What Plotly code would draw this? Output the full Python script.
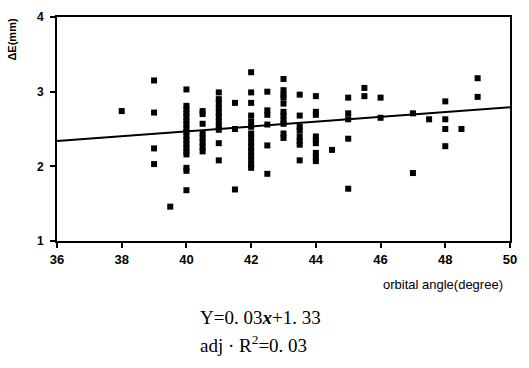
import plotly.graph_objects as go

# Data (orbital angle in degrees vs ΔE in mm)
x_38 = [38]
y_38 = [2.74]
x_39 = [39, 39, 39, 39, 39.5]
y_39 = [3.15, 2.72, 2.24, 2.03, 1.46]
y_40 = [3.03, 2.81, 2.76, 2.71, 2.66, 2.61, 2.56, 2.51, 2.46, 2.40, 2.35, 2.30, 2.25, 2.20, 2.16, 1.98, 1.94, 1.68]
y_40_5 = [2.74, 2.70, 2.57, 2.44, 2.38, 2.32, 2.26, 2.20]
y_41 = [2.99, 2.90, 2.85, 2.78, 2.72, 2.66, 2.60, 2.54, 2.49, 2.31, 2.08]
y_41_5 = [2.85, 2.50, 1.69]
y_42 = [3.26, 2.99, 2.85, 2.68, 2.60, 2.53, 2.44, 2.38, 2.32, 2.26, 2.20, 2.14, 2.08, 2.02, 1.98]
y_42_5 = [3.00, 2.75, 2.69, 2.56, 2.28, 1.90]
y_43 = [3.17, 3.02, 2.96, 2.92, 2.84, 2.73, 2.68, 2.62, 2.57, 2.44, 2.38]
y_43_5 = [2.96, 2.68, 2.53, 2.48, 2.40, 2.34, 2.29, 2.08]
y_44 = [2.94, 2.73, 2.69, 2.40, 2.35, 2.31, 2.18, 2.12, 2.07]
y_44_5 = [2.22]
y_45 = [2.92, 2.71, 2.63, 2.37, 1.70]
y_45_5 = [3.05, 2.94]
y_46 = [2.92, 2.65]
y_47 = [2.71, 1.91]
y_47_5 = [2.63]
y_48 = [2.87, 2.63, 2.50, 2.27]
y_48_5 = [2.50]
y_49 = [3.18, 2.93]

columns = [
    (38, y_38), (40, y_40), (40.5, y_40_5), (41, y_41), (41.5, y_41_5),
    (42, y_42), (42.5, y_42_5), (43, y_43), (43.5, y_43_5), (44, y_44),
    (44.5, y_44_5), (45, y_45), (45.5, y_45_5), (46, y_46), (47, y_47),
    (47.5, y_47_5), (48, y_48), (48.5, y_48_5), (49, y_49),
]

xs = list(x_39)
ys = list(y_39)
for cx, cy in columns:
    xs += [cx] * len(cy)
    ys += cy

# Regression line as drawn
fit_x = [36, 50]
fit_y = [2.34, 2.79]

x_ticks = [36, 38, 40, 42, 44, 46, 48, 50]
y_ticks = [1, 2, 3, 4]

fig = go.Figure()
fig.add_trace(go.Scatter(x=fit_x, y=fit_y, mode="lines",
                         line=dict(color="black", width=2), hoverinfo="skip"))
fig.add_trace(go.Scatter(x=xs, y=ys, mode="markers",
                         marker=dict(symbol="square", size=6, color="black")))

axis_font = dict(family="Liberation Sans, Arial, sans-serif", size=13, color="black")

fig.update_layout(
    width=529, height=368,
    margin=dict(l=57, r=19, t=10, b=127),
    paper_bgcolor="white", plot_bgcolor="white",
    showlegend=False,
    xaxis=dict(range=[36, 50], tickvals=x_ticks, ticktext=[f"<b>{t}</b>" for t in x_ticks],
               showgrid=False, zeroline=False, showline=True, linecolor="black",
               linewidth=2, mirror=True, ticks="outside", ticklen=5, tickwidth=2,
               tickcolor="black", tickfont=axis_font),
    yaxis=dict(range=[1, 4], tickvals=y_ticks, ticktext=[f"<b>{t}</b>" for t in y_ticks],
               showgrid=False, zeroline=False, showline=True, linecolor="black",
               linewidth=2, mirror=True, ticks="outside", ticklen=5, tickwidth=2,
               tickcolor="black", tickfont=dict(family="Liberation Sans, Arial, sans-serif", size=12, color="black"),
               ticklabelstandoff=4),
)

fig.add_annotation(text="<b>ΔE(mm)</b>", xref="paper", yref="paper",
                   x=-0.099, y=0.90, xanchor="center", yanchor="middle",
                   textangle=-90, showarrow=False,
                   font=dict(family="Liberation Sans, Arial, sans-serif", size=11, color="black"))
fig.add_annotation(text="orbital angle(degree)", xref="paper", yref="paper",
                   x=0.99, y=-0.195, xanchor="right", yanchor="middle", showarrow=False,
                   font=dict(family="Liberation Sans, Arial, sans-serif", size=13, color="black"))
fig.add_annotation(text="Y=0. 03<b><i>x</i></b>+1. 33", xref="paper", yref="paper",
                   x=0.311, y=-0.342, xanchor="left", yanchor="middle", showarrow=False,
                   font=dict(family="Liberation Serif, Times New Roman, serif", size=19, color="black"))
fig.add_annotation(text="adj · R<sup>2</sup>=0. 03", xref="paper", yref="paper",
                   x=0.311, y=-0.46, xanchor="left", yanchor="middle", showarrow=False,
                   font=dict(family="Liberation Serif, Times New Roman, serif", size=19, color="black"))

fig.write_html("out.html", config={"displayModeBar": False},
               post_script="document.body.style.margin='0';document.body.style.padding='0';")
